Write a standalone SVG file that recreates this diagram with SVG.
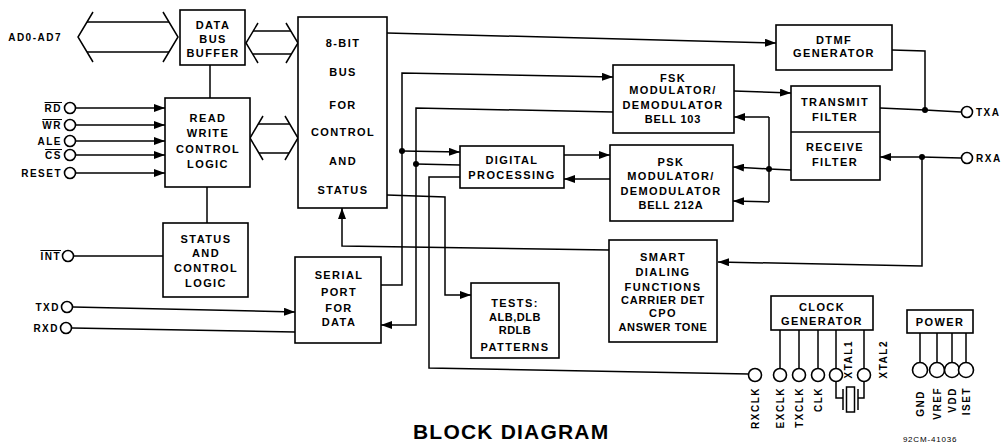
<svg xmlns="http://www.w3.org/2000/svg" width="1005" height="445" viewBox="0 0 1005 445">
<defs>
<marker id="ah" markerUnits="userSpaceOnUse" markerWidth="11" markerHeight="8" refX="11" refY="4" orient="auto">
<path d="M0,0 L11,4 L0,8 z" fill="#000"/>
</marker>
<style>
.b{fill:#fff;stroke:#000;stroke-width:1.6}
.w{fill:none;stroke:#000;stroke-width:1.5}
.a{marker-end:url(#ah)}
.p{fill:#fff;stroke:#000;stroke-width:1.6}
.d{fill:#000}
text{font-family:"Liberation Sans",Arial,sans-serif;font-weight:bold;fill:#000}
.t{font-size:11px;text-anchor:middle;letter-spacing:1.4px}
.l{font-size:10px;text-anchor:end;letter-spacing:1.5px}
.r{font-size:10px;letter-spacing:1.5px}
.v{font-size:10px;text-anchor:end;letter-spacing:1.5px}
.o{text-decoration:overline}
</style>
</defs>
<rect width="1005" height="445" fill="#fff"/>

<g id="connectors" class="w">
<path d="M87,22 H169 M87,52 H169"/>
<path d="M93,12 L78,37 L93,62 M163,12 L178,37 L163,62"/>
<path d="M253,31 H291 M253,54 H291"/>
<path d="M258,23 L246,43 L258,63 M286,23 L298,43 L286,63"/>
<path d="M258,124 H290 M259,153 H289"/>
<path d="M263,116 L250,138 L263,160 M285,116 L298,138 L285,160"/>
<path d="M210,65 V98"/>
<path d="M207,187 V223"/>
<path class="a" d="M75,108 H165"/>
<path class="a" d="M75,125 H165"/>
<path class="a" d="M75,141 H165"/>
<path class="a" d="M75,155 H165"/>
<path class="a" d="M75,173 H165"/>
<path d="M74,256 H163"/>
<path class="a" d="M73,307 L295,312"/>
<path d="M72,328 L295,332"/>
<path class="a" d="M387,33 L776,43"/>
<path d="M892,50 L925,51 V110"/>
<path d="M880,108 L925,110 L961,112"/>
<path class="a" d="M734,91 L791,93"/>
<path class="a" d="M961,158 L922,157 L880,157"/>
<path class="a" d="M922,157 V266 L718,262"/>
<path d="M791,170 L769,169"/>
<path d="M769,117 V202"/>
<path class="a" d="M769,117 H734"/>
<path class="a" d="M769,169 L733,167"/>
<path class="a" d="M769,202 L733,201"/>
<path class="a" d="M564,155 H610"/>
<path class="a" d="M610,179 H564"/>
<path class="a" d="M381,285 H402 V73 L613,77"/>
<path class="a" d="M402,151 L460,152"/>
<path class="a" d="M613,112 L416,108 V325 H381"/>
<path d="M416,164 L460,165"/>
<path d="M460,177 H429 V368 L749,374"/>
<path class="a" d="M387,195 L445,197 V295 H471"/>
<path class="a" d="M609,250 L342,246 V208"/>
<path d="M780,330 V368 M799,330 V368 M818,330 V368 M836,330 V368 M864,330 V368"/>
<path d="M836,382 V398 H843 M858,398 H864 V382"/>
<path d="M843,389 V410 M858,389 V410"/>
<rect x="846.5" y="387" width="8" height="25" fill="#fff" stroke="#000" stroke-width="1.5"/>
<path d="M920,333 V362 M937,333 V362 M952,333 V362 M966,333 V362"/>
</g>

<g id="dots">
<circle class="d" cx="925" cy="110" r="3"/>
<circle class="d" cx="922" cy="157" r="3"/>
<circle class="d" cx="769" cy="169" r="3"/>
<circle class="d" cx="402" cy="151" r="3"/>
<circle class="d" cx="416" cy="164" r="3"/>
</g>

<g id="pins">
<circle class="p" cx="70" cy="108" r="5.5"/>
<circle class="p" cx="70" cy="125" r="5.5"/>
<circle class="p" cx="70" cy="141" r="5.5"/>
<circle class="p" cx="70" cy="155" r="5.5"/>
<circle class="p" cx="70" cy="173" r="5.5"/>
<circle class="p" cx="68" cy="256" r="5.5"/>
<circle class="p" cx="67" cy="307" r="5.5"/>
<circle class="p" cx="66" cy="328" r="5.5"/>
<circle class="p" cx="967" cy="112" r="5.5"/>
<circle class="p" cx="967" cy="158" r="5.5"/>
<circle class="p" cx="755" cy="375" r="6.5"/>
<circle class="p" cx="780" cy="375" r="6.5"/>
<circle class="p" cx="799" cy="375" r="6.5"/>
<circle class="p" cx="818" cy="375" r="6.5"/>
<circle class="p" cx="836" cy="375" r="6.5"/>
<circle class="p" cx="864" cy="375" r="6.5"/>
<circle class="p" cx="920" cy="370" r="7.5"/>
<circle class="p" cx="937" cy="370" r="7.5"/>
<circle class="p" cx="952" cy="370" r="7.5"/>
<circle class="p" cx="966" cy="370" r="7.5"/>
<text class="l" x="62" y="41">AD0-AD7</text>
<text class="l o" x="62" y="112">RD</text>
<text class="l o" x="62" y="129">WR</text>
<text class="l" x="62" y="145">ALE</text>
<text class="l o" x="62" y="159">CS</text>
<text class="l" x="62" y="177">RESET</text>
<text class="l o" x="61" y="260">INT</text>
<text class="l" x="60" y="311">TXD</text>
<text class="l" x="59" y="332">RXD</text>
<text class="r" x="976" y="116">TXA</text>
<text class="r" x="976" y="162">RXA</text>
<text class="v" transform="translate(759,387) rotate(-90)">RXCLK</text>
<text class="v" transform="translate(784,387) rotate(-90)">EXCLK</text>
<text class="v" transform="translate(803,387) rotate(-90)">TXCLK</text>
<text class="v" transform="translate(822,387) rotate(-90)">CLK</text>
<text class="v" transform="translate(852,340) rotate(-90)">XTAL1</text>
<text class="v" transform="translate(887,340) rotate(-90)">XTAL2</text>
<text class="v" transform="translate(924,390) rotate(-90)">GND</text>
<text class="v" transform="translate(941,387) rotate(-90)">VREF</text>
<text class="v" transform="translate(956,387) rotate(-90)">VDD</text>
<text class="v" transform="translate(970,387) rotate(-90)">ISET</text>
</g>

<g id="data-bus-buffer">
<rect class="b" x="180" y="10" width="65" height="55"/>
<text class="t" x="213" y="29">DATA</text>
<text class="t" x="213" y="43">BUS</text>
<text class="t" x="213" y="57">BUFFER</text>
</g>

<g id="read-write-control">
<rect class="b" x="165" y="98" width="85" height="89"/>
<text class="t" x="208" y="122">READ</text>
<text class="t" x="208" y="137">WRITE</text>
<text class="t" x="208" y="153">CONTROL</text>
<text class="t" x="208" y="168">LOGIC</text>
</g>

<g id="status-control">
<rect class="b" x="163" y="223" width="85" height="74"/>
<text class="t" x="206" y="243">STATUS</text>
<text class="t" x="206" y="257">AND</text>
<text class="t" x="206" y="272">CONTROL</text>
<text class="t" x="206" y="287">LOGIC</text>
</g>

<g id="central-bus">
<rect class="b" x="298" y="17" width="89" height="191"/>
<text class="t" x="343" y="47">8-BIT</text>
<text class="t" x="343" y="76">BUS</text>
<text class="t" x="343" y="109">FOR</text>
<text class="t" x="343" y="136">CONTROL</text>
<text class="t" x="343" y="165">AND</text>
<text class="t" x="343" y="194">STATUS</text>
</g>

<g id="serial-port">
<rect class="b" x="295" y="257" width="86" height="86"/>
<text class="t" x="339" y="279">SERIAL</text>
<text class="t" x="339" y="296">PORT</text>
<text class="t" x="339" y="312">FOR</text>
<text class="t" x="339" y="326">DATA</text>
</g>

<g id="tests">
<rect class="b" x="471" y="283" width="88" height="75"/>
<text class="t" x="515" y="307">TESTS:</text>
<text class="t" x="515" y="321" style="letter-spacing:0.5px">ALB,DLB</text>
<text class="t" x="515" y="334" style="letter-spacing:0.5px">RDLB</text>
<text class="t" x="515" y="351">PATTERNS</text>
</g>

<g id="digital-processing">
<rect class="b" x="460" y="146" width="104" height="42"/>
<text class="t" x="512" y="164">DIGITAL</text>
<text class="t" x="512" y="179">PROCESSING</text>
</g>

<g id="fsk">
<rect class="b" x="613" y="65" width="121" height="68"/>
<text class="t" x="673" y="82">FSK</text>
<text class="t" x="673" y="94">MODULATOR/</text>
<text class="t" x="673" y="109">DEMODULATOR</text>
<text class="t" x="673" y="123" style="letter-spacing:0.8px">BELL 103</text>
</g>

<g id="psk">
<rect class="b" x="610" y="145" width="123" height="76"/>
<text class="t" x="671" y="166">PSK</text>
<text class="t" x="671" y="180">MODULATOR/</text>
<text class="t" x="671" y="195">DEMODULATOR</text>
<text class="t" x="671" y="209" style="letter-spacing:0.8px">BELL 212A</text>
</g>

<g id="filters">
<rect class="b" x="791" y="86" width="89" height="94"/>
<path d="M791,132 H880" stroke="#000" stroke-width="1.5"/>
<text class="t" x="835" y="106">TRANSMIT</text>
<text class="t" x="835" y="121">FILTER</text>
<text class="t" x="835" y="151">RECEIVE</text>
<text class="t" x="835" y="166">FILTER</text>
</g>

<g id="dtmf">
<rect class="b" x="776" y="25" width="116" height="45"/>
<text class="t" x="834" y="44">DTMF</text>
<text class="t" x="834" y="57">GENERATOR</text>
</g>

<g id="smart-dialing">
<rect class="b" x="609" y="240" width="108" height="102"/>
<text class="t" x="663" y="261">SMART</text>
<text class="t" x="663" y="276">DIALING</text>
<text class="t" x="663" y="291">FUNCTIONS</text>
<text class="t" x="663" y="304" style="letter-spacing:0.8px">CARRIER DET</text>
<text class="t" x="663" y="317">CPO</text>
<text class="t" x="663" y="331" style="letter-spacing:0.6px">ANSWER TONE</text>
</g>

<g id="clock-generator">
<rect class="b" x="771" y="296" width="102" height="34"/>
<text class="t" x="822" y="311">CLOCK</text>
<text class="t" x="822" y="325">GENERATOR</text>
</g>

<g id="power">
<rect class="b" x="907" y="310" width="66" height="23"/>
<text class="t" x="940" y="326">POWER</text>
</g>

<text x="930" y="442" style="font-size:8px;text-anchor:middle;font-weight:normal;letter-spacing:0.8px">92CM-41036</text>
<text x="413" y="439" style="font-size:21px;letter-spacing:1.2px">BLOCK DIAGRAM</text>
</svg>
